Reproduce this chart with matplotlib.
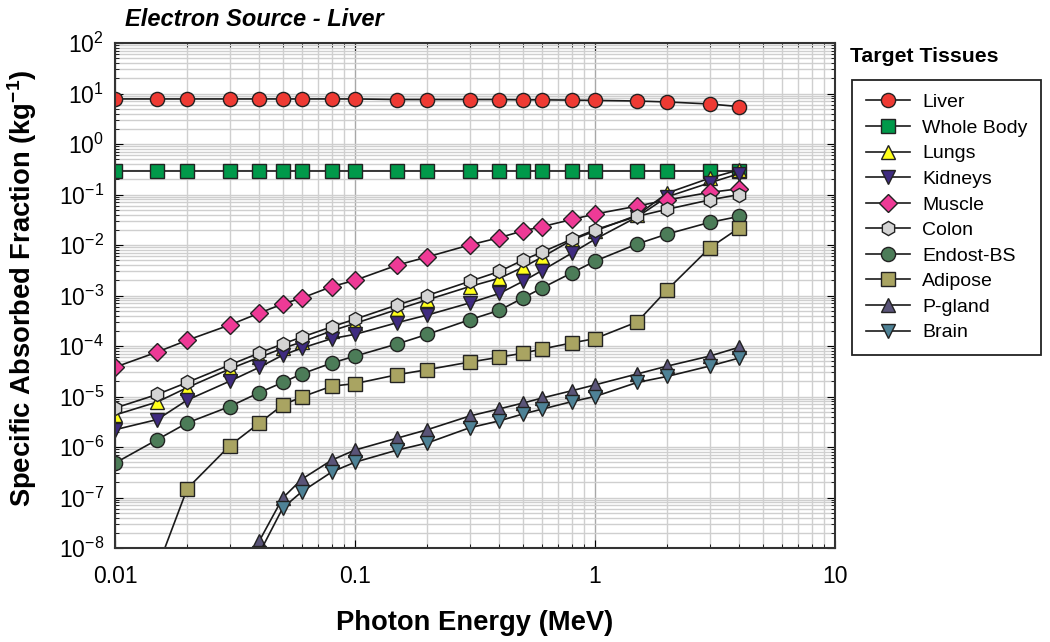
import numpy as np
import matplotlib as mpl
mpl.use('Agg')
import matplotlib.pyplot as plt
from matplotlib.ticker import LogLocator, NullFormatter, FixedLocator, FixedFormatter

plt.rcParams['font.family'] = ['Liberation Sans', 'DejaVu Sans']
plt.rcParams['mathtext.fontset'] = 'custom'
plt.rcParams['mathtext.rm'] = 'Liberation Sans'
plt.rcParams['mathtext.bf'] = 'Liberation Sans:bold'
plt.rcParams['mathtext.default'] = 'regular'

# photon energies (MeV)
energy = [0.01, 0.015, 0.02, 0.03, 0.04, 0.05, 0.06, 0.08, 0.1, 0.15, 0.2,
          0.3, 0.4, 0.5, 0.6, 0.8, 1.0, 1.5, 2.0, 3.0, 4.0]

# specific absorbed fractions (kg^-1)
liver = [7.8, 7.8, 7.8, 7.8, 7.8, 7.8, 7.8, 7.8, 7.8, 7.6, 7.6,
         7.6, 7.6, 7.5, 7.5, 7.4, 7.3, 7.1, 6.8, 6.2, 5.5]
whole_body = [0.29] * 21
lungs = [4.3e-6, 7.8e-6, 1.5e-5, 3.5e-5, 6.0e-5, 9.0e-5, 1.2e-4, 2.0e-4, 2.8e-4, 5.3e-4, 8.2e-4,
         1.5e-3, 2.2e-3, 3.6e-3, 5.7e-3, 1.25e-2, 1.9e-2, 3.9e-2, 0.107, 0.21, 0.31]
kidneys = [2.2e-6, 3.5e-6, 8.5e-6, 2.0e-5, 3.8e-5, 6.6e-5, 9.1e-5, 1.4e-4, 1.7e-4, 2.9e-4, 4.1e-4,
           7.1e-4, 1.1e-3, 1.9e-3, 3.1e-3, 6.9e-3, 1.3e-2, 3.6e-2, 9.0e-2, 0.17, 0.26]
muscle = [3.8e-5, 7.6e-5, 1.3e-4, 2.6e-4, 4.5e-4, 6.8e-4, 8.9e-4, 1.5e-3, 2.0e-3, 4.0e-3, 5.8e-3,
          1.0e-2, 1.4e-2, 1.9e-2, 2.3e-2, 3.2e-2, 4.1e-2, 5.9e-2, 7.8e-2, 0.11, 0.13]
colon = [5.9e-6, 1.1e-5, 1.9e-5, 4.2e-5, 7.3e-5, 1.1e-4, 1.5e-4, 2.4e-4, 3.4e-4, 6.5e-4, 1.0e-3,
         1.9e-3, 3.0e-3, 5.0e-3, 7.2e-3, 1.3e-2, 2.0e-2, 3.7e-2, 5.1e-2, 7.8e-2, 0.10]
endost = [4.8e-7, 1.4e-6, 3.0e-6, 6.3e-6, 1.2e-5, 1.9e-5, 2.8e-5, 4.6e-5, 6.3e-5, 1.1e-4, 1.7e-4,
          3.3e-4, 5.1e-4, 8.9e-4, 1.4e-3, 2.8e-3, 4.8e-3, 1.05e-2, 1.65e-2, 2.8e-2, 3.7e-2]
adipose = [1e-11, 4e-9, 1.5e-7, 1.05e-6, 3.0e-6, 6.8e-6, 9.8e-6, 1.6e-5, 1.8e-5, 2.7e-5, 3.4e-5,
           4.8e-5, 6.0e-5, 7.2e-5, 8.7e-5, 1.15e-4, 1.4e-4, 3.0e-4, 1.3e-3, 8.7e-3, 2.2e-2]
pgland = [np.nan, np.nan, np.nan, np.nan, 1.4e-8, 9.8e-8, 2.3e-7, 5.5e-7, 8.7e-7, 1.5e-6, 2.2e-6,
          4.1e-6, 5.7e-6, 7.4e-6, 9.3e-6, 1.3e-5, 1.7e-5, 2.8e-5, 4.0e-5, 6.3e-5, 9.5e-5]
brain = [np.nan, np.nan, np.nan, np.nan, 8e-9, 6.2e-8, 1.3e-7, 3.2e-7, 5.0e-7, 8.7e-7, 1.2e-6,
         2.4e-6, 3.3e-6, 4.5e-6, 5.6e-6, 7.9e-6, 1.0e-5, 1.9e-5, 2.5e-5, 4.0e-5, 5.8e-5]

series = [
    ('Liver', liver, 'o', '#ee3a33'),
    ('Whole Body', whole_body, 's', '#00994a'),
    ('Lungs', lungs, '^', '#ffff1a'),
    ('Kidneys', kidneys, 'v', '#3f2b80'),
    ('Muscle', muscle, 'D', '#ee3a96'),
    ('Colon', colon, 'h', '#d4d4d4'),
    ('Endost-BS', endost, 'o', '#4c7c58'),
    ('Adipose', adipose, 's', '#a9a462'),
    ('P-gland', pgland, '^', '#5a5478'),
    ('Brain', brain, 'v', '#4e8296'),
]

fig = plt.figure(figsize=(10.5, 6.42), dpi=100)
ax = fig.add_axes([115/1050, 1-548/642, 720/1050, 505/642])

for name, vals, mk, col in series:
    ms = 8.8 if mk == 'D' else 10.2
    ax.plot(energy, vals, '-', color='#1a1a1a', lw=1.2, marker=mk, ms=ms,
            mfc=col, mec='#222222', mew=1.0, label=name)

ax.set_xscale('log')
ax.set_yscale('log')
ax.set_xlim(0.01, 10)
ax.set_ylim(1e-8, 1e2)

ax.xaxis.set_major_locator(FixedLocator([0.01, 0.1, 1, 10]))
ax.xaxis.set_major_formatter(FixedFormatter(['0.01', '0.1', '1', '10']))
ax.xaxis.set_minor_locator(LogLocator(base=10, subs=np.arange(2, 10), numticks=20))
ax.xaxis.set_minor_formatter(NullFormatter())
ax.yaxis.set_major_locator(LogLocator(base=10, numticks=20))
ax.yaxis.set_minor_locator(LogLocator(base=10, subs=np.arange(2, 10), numticks=30))
ax.yaxis.set_minor_formatter(NullFormatter())

ax.grid(True, which='both', color='#cfcfcf', lw=1.0)
ax.grid(True, which='major', axis='x', color='#a8a8a8', lw=1.0)
ax.set_axisbelow(True)

ax.tick_params(which='both', direction='in', top=True, right=True, labelsize=16.5)
ax.tick_params(axis='x', pad=12)
ax.tick_params(axis='y', pad=8)
ax.tick_params(which='major', length=6)
ax.tick_params(which='minor', length=3)
for s in ax.spines.values():
    s.set_linewidth(1.5)
    s.set_color('#333333')

ax.set_xlabel('Photon Energy (MeV)', fontsize=19.7, fontweight='bold', labelpad=16)
ax.set_ylabel('Specific Absorbed Fraction (kg$^{\\mathbf{-1}}$)', fontsize=19.7,
              fontweight='bold')
ax.yaxis.set_label_coords(-0.106, 0.515)
fig.text(125/1050, 1-20/642, 'Electron Source - Liver', fontsize=17,
         fontweight='bold', style='italic', va='center', ha='left')

fig.text(850/1050, 1-57/642, 'Target Tissues', fontsize=15.3, fontweight='bold',
         va='center', ha='left')
leg = fig.legend(loc='upper left', bbox_to_anchor=(852/1050, 1-80/642), fontsize=14,
                 frameon=True, fancybox=False, edgecolor='#222222', framealpha=1,
                 borderpad=0.7, labelspacing=0.41, handlelength=2.3, handletextpad=0.6,
                 borderaxespad=0)
leg.get_frame().set_linewidth(1.3)

fig.savefig('out.png', dpi=100)
